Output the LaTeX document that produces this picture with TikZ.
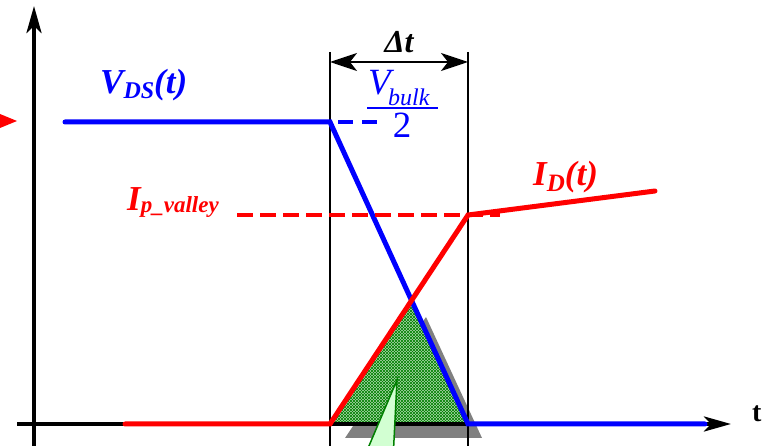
\documentclass[tikz,border=0pt]{standalone}
\usepackage{fontspec}
\setmainfont{Liberation Serif}
\usetikzlibrary{arrows.meta,patterns}
\definecolor{myblue}{RGB}{0,0,255}
\definecolor{myred}{RGB}{255,0,0}
\definecolor{dgreen}{RGB}{0,128,0}
\definecolor{lgreen}{RGB}{210,255,210}
\definecolor{hatchbg}{RGB}{170,215,170}
\begin{document}
\begin{tikzpicture}[x=1pt,y=-1pt,
  lbl/.style={inner sep=0pt, anchor=base west},
  lblc/.style={inner sep=0pt, anchor=base},
  blueline/.style={line width=5pt, myblue, line cap=round},
  redline/.style={line width=5pt, myred, line cap=round},
  axis/.style={line width=4pt, black, -{Stealth[length=27pt,width=15pt,inset=7pt]}},
  thin/.style={line width=1.2pt, black},
  dim/.style={line width=2pt, black, {Stealth[length=27pt,width=18pt,inset=7pt]}-{Stealth[length=27pt,width=18pt,inset=7pt]}}]
\useasboundingbox (0,0) rectangle (769,446);
\clip (0,0) rectangle (769,446);
% coordinates
\coordinate (yb) at (34,460);
\coordinate (yt) at (34,6);
\coordinate (xl) at (17,424);
\coordinate (xr) at (731,424);
\coordinate (B0) at (65,122);
\coordinate (B1) at (330,122);
\coordinate (B2) at (468,424);
\coordinate (B3) at (705,424);
\coordinate (BD0) at (338,122);
\coordinate (BD1) at (377,122);
\coordinate (R0) at (125,424);
\coordinate (R1) at (330,424);
\coordinate (R2) at (468,215);
\coordinate (R3) at (655,191);
\coordinate (RD0) at (237,215);
\coordinate (RD1) at (500,215);
\coordinate (T0) at (330,424);
\coordinate (T1) at (411,303);
\coordinate (T2) at (467,424);
\coordinate (V1t) at (330,52);
\coordinate (V1b) at (330,460);
\coordinate (V2t) at (468,52);
\coordinate (V2b) at (468,460);
\coordinate (D0) at (330,62);
\coordinate (D1) at (468,62);
\coordinate (C0) at (397,380);
\coordinate (C1) at (393,460);
\coordinate (C2) at (363,460);
\coordinate (F0) at (367,108);
\coordinate (F1) at (438,108);
% shadow and hatched triangle
\fill[gray] ([shift={(15,14)}]T0) -- ([shift={(15,14)}]T1) -- ([shift={(15,14)}]T2) -- cycle;
\fill[hatchbg] (T0) -- (T1) -- (T2) -- cycle;
\fill[pattern=north east lines, pattern color=dgreen] (T0) -- (T1) -- (T2) -- cycle;
\fill[pattern=north west lines, pattern color=dgreen] (T0) -- (T1) -- (T2) -- cycle;
\draw[dgreen, line width=1pt, dotted] (T1) -- (T2);
% thin verticals and dimension
\draw[thin] (V1t) -- (V1b);
\draw[thin] (V2t) -- (V2b);
\draw[dim] (D0) -- (D1);
% axes
\draw[axis] (yb) -- (yt);
\draw[axis] (xl) -- (xr);
% left marker
\fill[myred] (0,114) -- (17,121) -- (0,128) -- cycle;
% V_DS
\draw[blueline, line cap=round, line join=miter] (B0) -- (B1) -- (B2) -- (B3);
\draw[line width=4pt, myblue, dash pattern=on 15pt off 9pt] (BD0) -- (BD1);
% I_D
\draw[line width=4pt, myred, dash pattern=on 16pt off 7pt] (RD0) -- (RD1);
\draw[redline, line join=miter] (R0) -- (R1) -- (R2) -- (R3);
% callout
\draw[dgreen, fill=lgreen, line width=1.5pt, line join=miter] (C0) -- (C1) -- (C2) -- cycle;
% labels
\node[lbl, text=myblue] (vds) at (100,94) {\fontsize{35}{35}\selectfont\bfseries\itshape V\raisebox{-5pt}{\fontsize{24}{24}\selectfont DS}(t)};
\node[lbl, text=myred] (ipv) at (127,211) {\fontsize{35}{35}\selectfont\bfseries\itshape I\raisebox{-2pt}{\fontsize{23}{23}\selectfont p\_valley}};
\node[lbl, text=myred] (idt) at (533,186) {\fontsize{35}{35}\selectfont\bfseries\itshape I\raisebox{-6pt}{\fontsize{25}{25}\selectfont D}(t)};
\node[lblc] (dt) at (399,53) {\fontsize{32}{32}\selectfont\bfseries\itshape Δt};
\node[lbl, text=myblue] (vb) at (368,95) {\fontsize{37}{37}\selectfont\itshape V};
\node[lbl, text=myblue] (bulk) at (388,106) {\fontsize{24}{24}\selectfont\itshape bulk};
\draw[myblue, line width=1.5pt] (F0) -- (F1);
\node[lblc, text=myblue] (two) at (402,138) {\fontsize{37}{37}\selectfont 2};
\node[lbl] (tx) at (752,422) {\fontsize{28}{28}\selectfont\bfseries t};
\end{tikzpicture}
\end{document}
